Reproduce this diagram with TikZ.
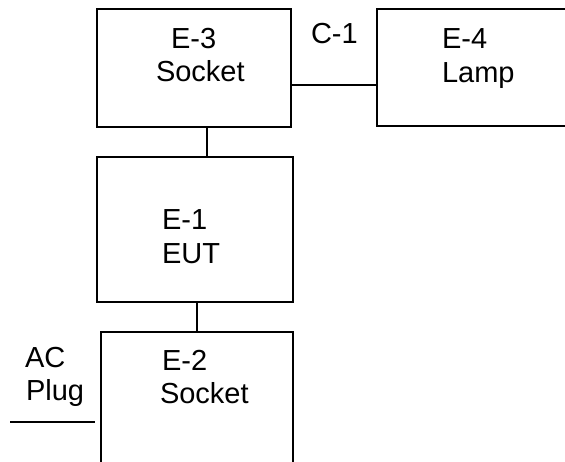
\documentclass[tikz,border=0pt]{standalone}
\usepackage{fontspec}
\setmainfont{Liberation Sans}
\begin{document}
\begin{tikzpicture}[x=1pt,y=-1pt,
  box/.style={draw=black,line width=1.7pt,fill=white,inner sep=0pt,outer sep=0pt,anchor=north west},
  lbl/.style={anchor=base west,inner sep=0pt,outer sep=0pt,font=\fontsize{29}{33}\selectfont},
  wire/.style={draw=black,line width=1.7pt}]
\useasboundingbox (0,0) rectangle (565,461);
\clip (0,0) rectangle (565,461);
\fill[white] (0,0) rectangle (565,461);
% boxes
\node[box,minimum width=193.4pt,minimum height=118pt] (e3) at (97.3,9.3) {};
\node[box,minimum width=230pt,minimum height=116.7pt] (e4) at (377.3,9.3) {};
\node[box,minimum width=196pt,minimum height=144.4pt] (e1) at (97.3,157.3) {};
\node[box,minimum width=192.3pt,minimum height=160pt] (e2) at (101,331.7) {};
% texts
\node[lbl] (t3a) at (171,48.5) {E-3};
\node[lbl] (t3b) at (156,81) {Socket};
\node[lbl] (t4a) at (442,48) {E-4};
\node[lbl] (t4b) at (442,82) {Lamp};
\node[lbl] (c1) at (311,43) {C-1};
\node[lbl] (t1a) at (162,229) {E-1};
\node[lbl] (t1b) at (162,263) {EUT};
\node[lbl] (t2a) at (162,370) {E-2};
\node[lbl] (t2b) at (160,403) {Socket};
\node[lbl] (aca) at (25,367) {AC};
\node[lbl] (acb) at (26,400) {Plug};
% connectors
\coordinate (v1) at (206.7,0);
\coordinate (v2) at (196.7,0);
\coordinate (h1) at (0,85);
\coordinate (p1) at (10,421.7);
\coordinate (p2) at (95,421.7);
\draw[wire] (v1 |- e3.south) -- (v1 |- e1.north);
\draw[wire] (v2 |- e1.south) -- (v2 |- e2.north);
\draw[wire] (h1 -| e3.east) -- (h1 -| e4.west);
\draw[wire] (p1) -- (p2);
\end{tikzpicture}
\end{document}
